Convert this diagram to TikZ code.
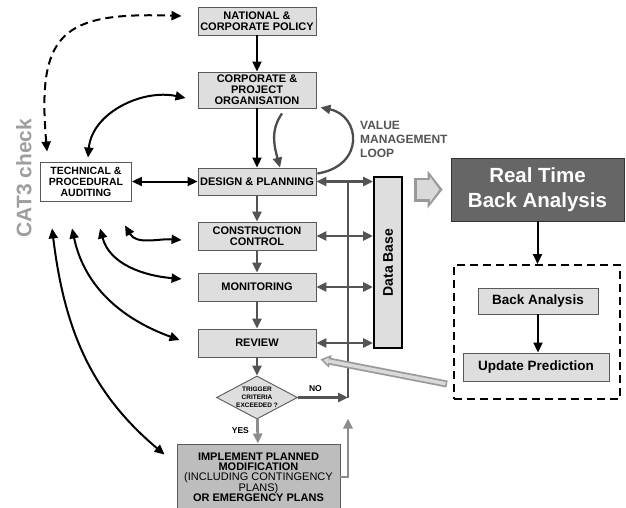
\documentclass[tikz,border=0pt]{standalone}
\usepackage{fontspec}
\setmainfont{Liberation Sans}
\usepackage{graphicx}
\usetikzlibrary{arrows.meta,shapes.geometric,positioning}

\definecolor{boxgray}{gray}{0.87}
\definecolor{impgray}{gray}{0.74}
\definecolor{rtgray}{gray}{0.40}
\definecolor{busgray}{gray}{0.33}
\definecolor{paleline}{gray}{0.55}
\definecolor{catgray}{gray}{0.62}
\definecolor{edgegray}{gray}{0.35}

\begin{document}
\begin{tikzpicture}[x=1pt,y=1pt,>={Triangle[length=10pt,width=9pt]},
	blk/.style={draw=edgegray,fill=boxgray,line width=.9pt,align=center,inner sep=1pt,minimum width=118pt,font=\bfseries\fontsize{11}{11}\selectfont},
	link/.style={line width=2pt},
	bus/.style={draw=busgray,line width=2.8pt},
	pale/.style={draw=paleline,line width=2.8pt},
	looparrow/.style={draw=black!70,line width=2.3pt},
	hollowout/.style={draw=gray!80},
	hollowin/.style={draw=gray!30}]
\useasboundingbox (0,0) rectangle (626,-508);

\path
(257,-21)     node[blk,minimum height=28pt] (nat) {NATIONAL \&\\CORPORATE POLICY}
(257,-90)     node[blk,minimum height=36pt] (org) {CORPORATE \&\\PROJECT\\ORGANISATION}
(257,-181.5)  node[blk,minimum height=27pt] (des) {DESIGN \& PLANNING}
(257,-236)    node[blk,minimum height=28pt] (con) {CONSTRUCTION\\CONTROL}
(257,-287)    node[blk,minimum height=28pt] (mon) {MONITORING}
(257,-343)    node[blk,minimum height=28pt] (rev) {REVIEW}
(257,-397.5)  node[diamond,aspect=1.9,draw=edgegray,fill=boxgray,line width=.9pt,inner sep=-2.5pt,
                   minimum width=81pt,minimum height=43pt,align=center,
                   font=\bfseries\fontsize{6.5}{8}\selectfont] (trig) {TRIGGER\\CRITERIA\\EXCEEDED ?}
(258.5,-477)  node[blk,fill=impgray,minimum width=163pt,minimum height=66pt,
                   font=\fontsize{11}{10.3}\selectfont] (imp)
              {\textbf{IMPLEMENT PLANNED}\\\textbf{MODIFICATION}\\(INCLUDING CONTINGENCY\\PLANS)\\\textbf{OR EMERGENCY PLANS}}
(86,-181.5)   node[blk,fill=white,minimum width=91pt,minimum height=39pt,
                   font=\bfseries\fontsize{10.5}{11}\selectfont] (aud) {TECHNICAL \&\\PROCEDURAL\\AUDITING}
(388,-262.5)  node[blk,draw=black,line width=2pt,minimum width=28pt,minimum height=171pt,
                   font=\bfseries\fontsize{14}{14}\selectfont] (db) {\rotatebox{90}{Data Base}}
(537.5,-189.5) node[blk,fill=rtgray,draw=black!80,text=white,minimum width=173pt,minimum height=63pt,
                   font=\bfseries\fontsize{20.5}{25}\selectfont] (rt) {Real Time\\Back Analysis}
(537,-332)    node[draw,line width=2pt,dash pattern=on 8pt off 5pt,minimum width=166pt,
                   minimum height=134pt,inner sep=0pt] (grp) {}
(538,-301)    node[blk,minimum width=120pt,minimum height=26pt,font=\bfseries\fontsize{13.5}{14}\selectfont] (ba) {Back Analysis}
(536,-367)    node[blk,minimum width=146pt,minimum height=28pt,font=\bfseries\fontsize{13.5}{14}\selectfont] (up) {Update Prediction}
(24,-178)     node[rotate=90,text=catgray,font=\bfseries\fontsize{21}{21}\selectfont] (cat) {CAT3 check}
(360,-121)    node[anchor=north west,inner sep=0pt,align=left,text=busgray,
                   font=\bfseries\fontsize{12}{14}\selectfont] (vml) {VALUE\\MANAGEMENT\\LOOP};

% data bus
\coordinate (bt) at (348,-181.5);
\coordinate (bb) at (trig.east -| bt);
\draw[bus] (bt) -- (bb);
\foreach \n in {des,con,mon,rev}
	\draw[bus,<->] (\n.east) -- (\n.east -| db.west);

\draw[link,->] (nat) -- (org);
\draw[link,->] (org) -- (des);
\draw[bus,->] (des) -- (con);
\draw[bus,->] (con) -- (mon);
\draw[bus,->] (mon) -- (rev);
\draw[bus,->] (rev) -- (trig);
\draw[pale,->] (trig) -- (imp) node[pos=.45,left=4pt,font=\bfseries\fontsize{8.5}{9}\selectfont] {YES};
\draw[bus,->] (trig) -- (bb) node[pos=.35,above=1pt,font=\bfseries\fontsize{8.5}{9}\selectfont] {NO};
\draw[pale,->] (imp.east) -| ([yshift=-21pt]bb);

% value management loop
\draw[looparrow,->] ([shift={(25pt,-5pt)}]org.south) to[out=-125,in=105] ([xshift=23pt]des.north);
\draw[looparrow,->] ([shift={(1pt,-6pt)}]des.north east) .. controls +(48pt,8pt) and +(40pt,-8pt) .. ([shift={(4pt,1pt)}]org.south east);

% auditing links
\draw[link,<->] (aud) -- (des);
\draw[link,<->,dash pattern=on 8pt off 5pt] ([shift={(7pt,10pt)}]aud.north west) to[out=95,in=178,looseness=1.6] ([shift={(-16pt,5pt)}]nat.west);
\draw[link,<->] ([shift={(2pt,4pt)}]aud.north) to[out=85,in=168] ([shift={(-12pt,-8pt)}]org.west);
\draw[link,<->] ([shift={(85pt,-24pt)}]aud.south west) to[out=-60,in=176] ([shift={(-16pt,-4pt)}]con.west);
\draw[link,<->] ([shift={(60pt,-27pt)}]aud.south west) to[out=-75,in=175] ([shift={(-16pt,8pt)}]mon.west);
\draw[link,<->] ([shift={(32pt,-27pt)}]aud.south west) to[out=-78,in=160] ([shift={(-18pt,3pt)}]rev.west);
\draw[link,<->] ([shift={(12pt,-27pt)}]aud.south west) to[out=-83,in=140] ([shift={(-12pt,-11pt)}]imp.north west);

% back analysis side
\draw[hollowout,line width=24pt,-{Triangle[length=15pt,width=38pt,line width=0pt]},shorten <=11pt,shorten >=8pt] (db.east |- rt.west) -- (rt.west);
\draw[hollowin,line width=19pt,-{Triangle[length=9.5pt,width=26pt,line width=0pt]},shorten <=13.5pt,shorten >=11.2pt] (db.east |- rt.west) -- (rt.west);
\draw[link,->] (rt) -- (rt |- grp.north);
\draw[link,->] (ba) -- (ba |- up.north);

\coordinate (tl) at ([shift={(-6pt,16pt)}]grp.south west);
\draw[hollowout,line width=7pt,-{Triangle[length=10pt,width=13pt,line width=0pt]}] (tl) -- ([shift={(4pt,-2pt)}]rev.south east);
\draw[hollowin,line width=3.5pt,-{Triangle[length=5pt,width=7pt,line width=0pt]},shorten >=3pt,shorten <=1.5pt] (tl) -- ([shift={(4pt,-2pt)}]rev.south east);
\end{tikzpicture}
\end{document}
